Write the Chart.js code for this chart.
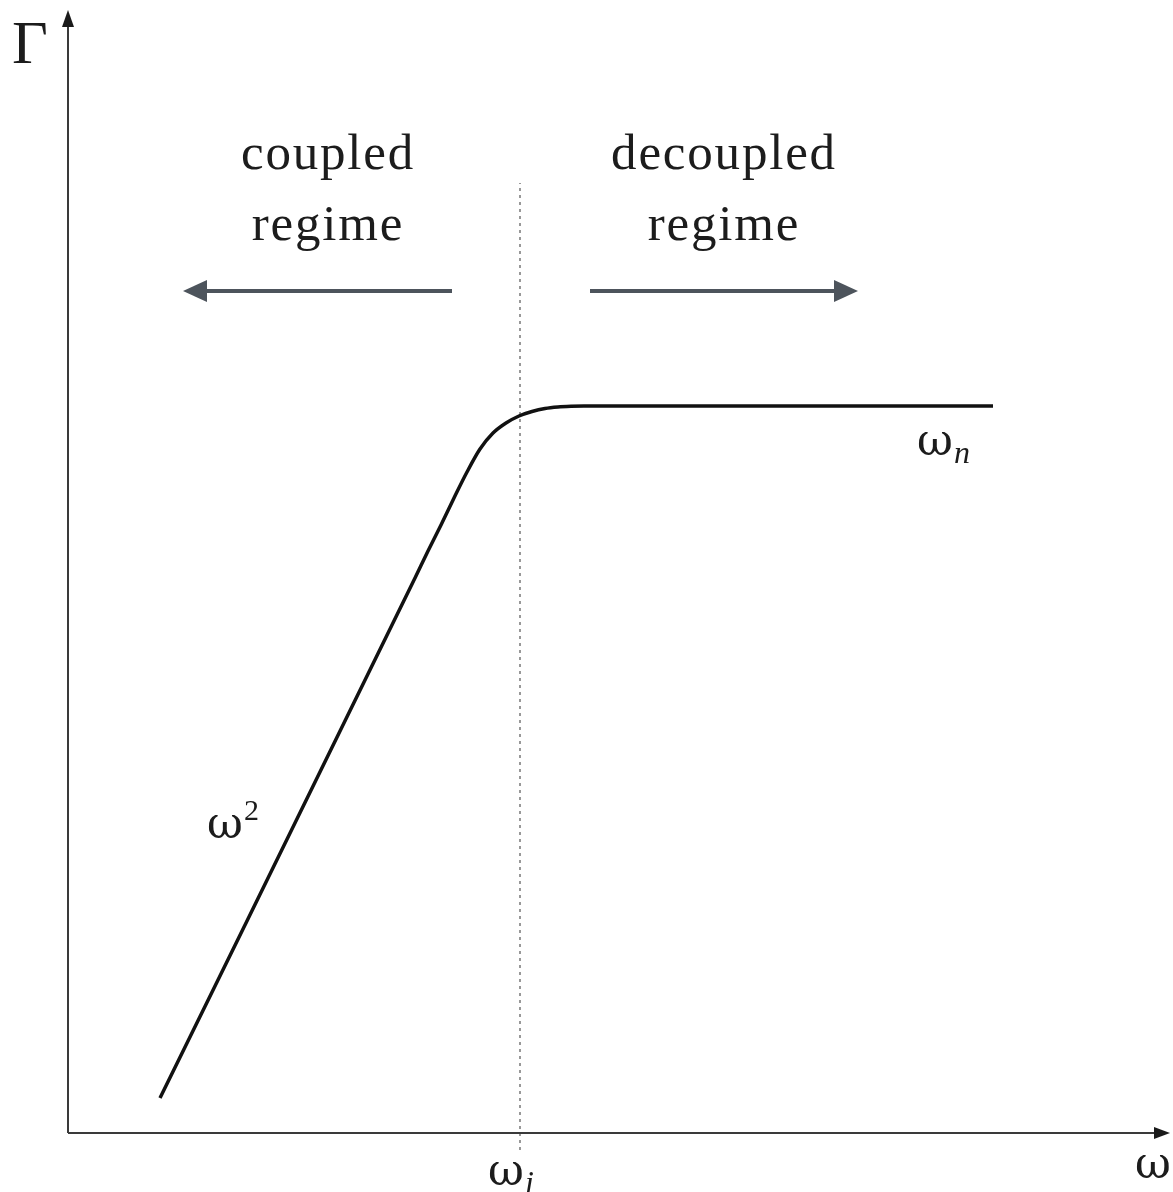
<!DOCTYPE html>
<html>
<head>
<meta charset="utf-8">
<script src="https://cdn.jsdelivr.net/npm/chart.js@4"></script>
<style>
  html, body { margin: 0; padding: 0; background: #fff; }
  #wrap { width: 1173px; height: 1192px; }
</style>
</head>
<body>
<div id="wrap"><canvas id="chart-gamma"></canvas></div>
<script>
// Curve (arbitrary units: omega across, Gamma up)
const curveOmega = [0.92, 3.47, 3.60, 3.73, 3.86, 3.99, 4.12, 4.25, 4.38, 4.51, 4.64, 4.77, 4.90, 5.03, 5.16, 9.25];
const curveGamma = [0.35, 5.55, 5.82, 6.08, 6.35, 6.61, 6.84, 7.00, 7.10, 7.17, 7.215, 7.245, 7.26, 7.267, 7.27, 7.27];

// omega_i marker
const omegaI = 4.52;
const markerGamma = [-0.17, 9.5];

// regime arrows: [from, to] in omega, at one Gamma level
const coupledArrow = [3.84, 1.15];
const decoupledArrow = [5.22, 7.9];
const arrowGamma = 8.42;

const axisMax = { x: 11, y: 11.2 };

const serif = '"Liberation Serif", "DejaVu Serif", serif';
const greek = '"DejaVu Serif", serif';

const annotations = {
    id: 'annotations',
    afterDatasetsDraw(chart) {
        const ctx = chart.ctx;
        const sx = chart.scales.x, sy = chart.scales.y;
        const px = v => sx.getPixelForValue(v);
        const py = v => sy.getPixelForValue(v);

        ctx.save();
        // axes with arrow heads
        ctx.strokeStyle = '#3a3a3a';
        ctx.fillStyle = '#1a1a1a';
        ctx.lineWidth = 2;
        ctx.beginPath();
        ctx.moveTo(px(0), py(0));
        ctx.lineTo(px(axisMax.x) - 8, py(0));
        ctx.moveTo(px(0), py(0));
        ctx.lineTo(px(0), py(axisMax.y) + 8);
        ctx.stroke();
        ctx.beginPath();
        ctx.moveTo(px(axisMax.x) + 2, py(0));
        ctx.lineTo(px(axisMax.x) - 14, py(0) - 6);
        ctx.lineTo(px(axisMax.x) - 14, py(0) + 6);
        ctx.closePath();
        ctx.fill();
        ctx.beginPath();
        ctx.moveTo(px(0), py(axisMax.y) - 3);
        ctx.lineTo(px(0) - 6, py(axisMax.y) + 14);
        ctx.lineTo(px(0) + 6, py(axisMax.y) + 14);
        ctx.closePath();
        ctx.fill();

        // regime arrows
        ctx.strokeStyle = '#4d545c';
        ctx.fillStyle = '#4d545c';
        ctx.lineWidth = 4;
        [coupledArrow, decoupledArrow].forEach(a => {
            const x0 = px(a[0]), x1 = px(a[1]), y = py(arrowGamma);
            const dir = Math.sign(x1 - x0);
            ctx.beginPath();
            ctx.moveTo(x0, y);
            ctx.lineTo(x1 - dir * 20, y);
            ctx.stroke();
            ctx.beginPath();
            ctx.moveTo(x1, y);
            ctx.lineTo(x1 - dir * 24, y - 11);
            ctx.lineTo(x1 - dir * 24, y + 11);
            ctx.closePath();
            ctx.fill();
        });

        // text
        ctx.fillStyle = '#1c1c1c';
        ctx.textBaseline = 'alphabetic';
        ctx.textAlign = 'center';
        ctx.font = '51px ' + serif;
        ctx.letterSpacing = '1.8px';
        ctx.fillText('coupled', px(2.6), py(9.64));
        ctx.fillText('regime', px(2.6), py(8.93));
        ctx.fillText('decoupled', px(6.56), py(9.64));
        ctx.fillText('regime', px(6.56), py(8.93));
        ctx.letterSpacing = '0px';

        ctx.textAlign = 'left';
        ctx.font = '62px ' + serif;
        ctx.fillText('Γ', px(-0.56), py(10.7));

        const omegaLabel = (x, y, sub, sup) => {
            ctx.font = '44px ' + greek;
            ctx.fillText('ω', px(x), py(y));
            const w = ctx.measureText('ω').width;
            if (sub) {
                ctx.font = 'italic 32px ' + serif;
                ctx.fillText(sub, px(x) + w + 1, py(y) + 8);
            }
            if (sup) {
                ctx.font = '30px ' + serif;
                ctx.fillText(sup, px(x) + w + 1, py(y) - 18);
            }
        };
        omegaLabel(4.2, -0.52, 'i');
        omegaLabel(8.49, 6.78, 'n');
        omegaLabel(1.39, 2.95, null, '2');
        omegaLabel(10.67, -0.45);
        ctx.restore();
    }
};

new Chart(document.getElementById('chart-gamma'), {
    type: 'scatter',
    data: {
        datasets: [{
            data: curveOmega.map((x, i) => ({ x, y: curveGamma[i] })),
            showLine: true,
            borderColor: '#111',
            borderWidth: 3.5,
            pointRadius: 0,
            cubicInterpolationMode: 'monotone'
        }, {
            data: markerGamma.map(y => ({ x: omegaI, y })),
            showLine: true,
            borderColor: '#555',
            borderWidth: 1.2,
            borderDash: [3, 4],
            pointRadius: 0,
            clip: false
        }]
    },
    options: {
        responsive: true,
        maintainAspectRatio: false,
        animation: false,
        layout: { padding: { left: 68, right: 5, top: 13, bottom: 59 } },
        plugins: { legend: { display: false }, tooltip: { enabled: false } },
        scales: {
            x: { type: 'linear', min: 0, max: axisMax.x, display: false },
            y: { type: 'linear', min: 0, max: axisMax.y, display: false }
        }
    },
    plugins: [annotations]
});
</script>
</body>
</html>
